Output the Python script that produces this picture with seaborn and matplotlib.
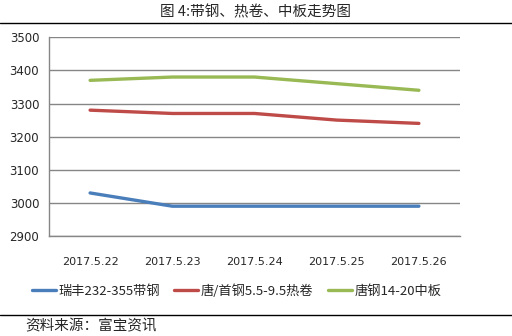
import matplotlib
matplotlib.use("Agg")
import matplotlib.pyplot as plt
from matplotlib.lines import Line2D
import seaborn as sns
import pandas as pd
import numpy as np

dates = ["2017.5.22", "2017.5.23", "2017.5.24", "2017.5.25", "2017.5.26"]
series_names = ["瑞丰232-355带钢", "唐/首钢5.5-9.5热卷", "唐钢14-20中板"]
strip_steel = [3030, 2990, 2990, 2990, 2990]
hot_coil = [3280, 3270, 3270, 3250, 3240]
plate = [3370, 3380, 3380, 3360, 3340]
colors = ["#4A7EBB", "#BE4B48", "#98B954"]
y_ticks = [2900, 3000, 3100, 3200, 3300, 3400, 3500]

sns.set_style("white")
plt.rcParams["font.family"] = ["Noto Sans CJK SC", "DejaVu Sans"]

rows = []
for name, vals in zip(series_names, [strip_steel, hot_coil, plate]):
    for i, v in enumerate(vals):
        rows.append({"pos": i, "value": v, "series": name})
df = pd.DataFrame(rows)

fig = plt.figure(figsize=(5.12, 3.36), dpi=100)
ax = fig.add_axes([49 / 512, 1 - 236 / 336, (460 - 49) / 512, (236 - 37.3) / 336])

sns.lineplot(data=df, x="pos", y="value", hue="series", palette=colors,
             linewidth=2.4, ax=ax, legend=False, zorder=3)

ax.set_xlim(-0.5, 4.5)
ax.set_ylim(2900, 3500)
ax.set_yticks(y_ticks)
ax.set_yticklabels([str(t) for t in y_ticks], fontsize=8.5, family="DejaVu Sans")
ax.xaxis.grid(False, which="both")
ax.yaxis.grid(True, which="major", color="#868686", linewidth=1.0)
ax.set_axisbelow(True)
ax.tick_params(axis="y", length=4, width=1, color="#868686", direction="out", pad=3)

ax.set_xticks(range(len(dates)))
ax.set_xticklabels(dates, fontsize=8, family="DejaVu Sans")
ax.set_xticks(np.arange(-0.5, 5, 1.0), minor=True)
ax.tick_params(axis="x", which="major", length=0, pad=15)
ax.tick_params(axis="x", which="minor", length=4, width=1, color="#868686", direction="out")
ax.set_xlabel("")
ax.set_ylabel("")

for s in ["top", "right"]:
    ax.spines[s].set_visible(False)
ax.spines["left"].set_color("#868686")
ax.spines["bottom"].set_color("#868686")
ax.spines["left"].set_linewidth(1.0)
ax.spines["bottom"].set_linewidth(1.0)

handles = [Line2D([0], [0], color=c, linewidth=2.4) for c in colors]
fig.legend(handles, series_names, loc="center", bbox_to_anchor=(0.462, 1 - 291 / 336),
           ncol=3, frameon=False, fontsize=9.5, handlelength=1.8, handletextpad=0.2,
           columnspacing=1.1)

fig.text(0.5, 1 - 12 / 336, "图 4:带钢、热卷、中板走势图", ha="center", va="center", fontsize=10.5)
fig.add_artist(Line2D([0, 1], [1 - 23 / 336, 1 - 23 / 336], color="black", linewidth=1.0,
                      transform=fig.transFigure))
fig.add_artist(Line2D([0, 1], [1 - 315 / 336, 1 - 315 / 336], color="black", linewidth=1.0,
                      transform=fig.transFigure))
fig.text(25 / 512, 1 - 326 / 336, "资料来源：富宝资讯", ha="left", va="center", fontsize=10.5)

fig.savefig("out.png", dpi=100)
